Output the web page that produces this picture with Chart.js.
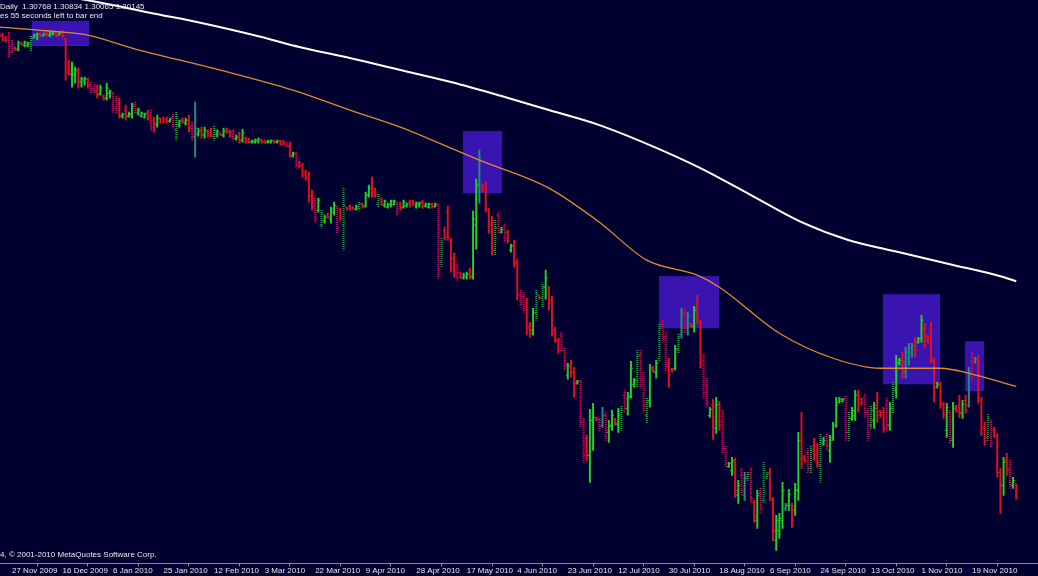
<!DOCTYPE html>
<html>
<head>
<meta charset="utf-8">
<script src="https://cdn.jsdelivr.net/npm/chart.js@4.4.0/dist/chart.umd.min.js"></script>
<style>
  html, body { margin: 0; padding: 0; background: #000030; }
  #wrap { position: relative; width: 1038px; height: 576px; }
</style>
</head>
<body>
<div id="wrap"><canvas id="chart"></canvas></div>
<script>
// daily bars, bar 0 = 27 Nov 2009 (first axis label), one label every 16 bars
const firstBar = -4

const opens = [
  1.5335, 1.5325, 1.531, 1.53, 1.5265, 1.526, 1.5255, 1.5285, 1.5275, 1.5275,
  1.528, 1.531, 1.5315, 1.533, 1.532, 1.5335, 1.5325, 1.533, 1.5335, 1.5325,
  1.5335, 1.5305, 1.515, 1.513, 1.5125, 1.5145, 1.509, 1.5095, 1.5105, 1.5075,
  1.506, 1.505, 1.503, 1.502, 1.501, 1.5035, 1.5035, 1.50, 1.498, 1.492,
  1.495, 1.492, 1.493, 1.498, 1.4935, 1.492, 1.4915, 1.4935, 1.4925, 1.49,
  1.488, 1.4905, 1.491, 1.4905, 1.4895, 1.4915, 1.485, 1.4875, 1.4905, 1.4885,
  1.49, 1.487, 1.4815, 1.483, 1.485, 1.4825, 1.4845, 1.484, 1.482, 1.483,
  1.4835, 1.4825, 1.4855, 1.4845, 1.484, 1.4805, 1.483, 1.48, 1.481, 1.4805,
  1.479, 1.479, 1.4795, 1.48, 1.4795, 1.479, 1.479, 1.4795, 1.479, 1.4795,
  1.479, 1.4785, 1.477, 1.472, 1.473, 1.4685, 1.4675, 1.464, 1.4615, 1.452,
  1.45, 1.445, 1.4375, 1.4395, 1.443, 1.4405, 1.444, 1.4465, 1.445, 1.4375,
  1.4465, 1.447, 1.4465, 1.4455, 1.446, 1.448, 1.447, 1.4525, 1.456, 1.455,
  1.448, 1.4505, 1.4475, 1.4465, 1.4475, 1.448, 1.4485, 1.448, 1.4465, 1.447,
  1.449, 1.4495, 1.447, 1.4475, 1.449, 1.447, 1.4465, 1.448, 1.447, 1.4475,
  1.419, 1.435, 1.444, 1.43, 1.421, 1.417, 1.4135, 1.411, 1.4115, 1.415,
  1.412, 1.4375, 1.4575, 1.4575, 1.457, 1.445, 1.4375, 1.425, 1.4425, 1.434,
  1.437, 1.434, 1.425, 1.4275, 1.4185, 1.403, 1.402, 1.3975, 1.387, 1.385,
  1.394, 1.4025, 1.401, 1.4065, 1.405, 1.40, 1.385, 1.38, 1.3825, 1.375,
  1.3625, 1.368, 1.364, 1.3585, 1.359, 1.339, 1.331, 1.3225, 1.34, 1.3415,
  1.3405, 1.3375, 1.3425, 1.334, 1.337, 1.3405, 1.338, 1.341, 1.3525, 1.346,
  1.352, 1.358, 1.36, 1.3725, 1.361, 1.3425, 1.35, 1.3665, 1.364, 1.371,
  1.388, 1.382, 1.3685, 1.3655, 1.366, 1.3755, 1.383, 1.394, 1.386, 1.3885,
  1.387, 1.396, 1.389, 1.37, 1.3575, 1.3425, 1.3475, 1.336, 1.3475, 1.339,
  1.326, 1.317, 1.315, 1.319, 1.3025, 1.3125, 1.3025, 1.311, 1.314, 1.299,
  1.29, 1.3035, 1.30, 1.3115, 1.314, 1.30, 1.28, 1.285, 1.29, 1.296,
  1.2975, 1.2975, 1.295, 1.305, 1.33, 1.322, 1.324, 1.316, 1.3275, 1.325,
  1.3175, 1.3285, 1.332, 1.325, 1.3315, 1.3375, 1.349, 1.3495, 1.351, 1.334,
  1.341, 1.3425, 1.353, 1.3505, 1.351, 1.344, 1.3375, 1.34, 1.3475, 1.3445,
  1.344, 1.3475, 1.3375, 1.346, 1.355, 1.3685, 1.371, 1.364, 1.371, 1.374,
  1.38, 1.379, 1.381, 1.386, 1.382, 1.385, 1.37, 1.3565, 1.3575, 1.348,
  1.335, 1.344, 1.33, 1.347, 1.3475, 1.3435, 1.35, 1.3475, 1.37, 1.369,
  1.37, 1.35, 1.337, 1.3315, 1.339, 1.335, 1.332, 1.314, 1.3075, 1.32,
  1.316, 1.3075, 1.30768,
]

const highs = [
  1.5335, 1.5335, 1.532, 1.534, 1.5305, 1.5265, 1.5295, 1.529, 1.5295, 1.529,
  1.532, 1.533, 1.5335, 1.5335, 1.5335, 1.534, 1.534, 1.534, 1.534, 1.534,
  1.535, 1.531, 1.52, 1.519, 1.5165, 1.516, 1.5115, 1.5115, 1.511, 1.509,
  1.5085, 1.5075, 1.5075, 1.5025, 1.5085, 1.505, 1.504, 1.5025, 1.501, 1.4935,
  1.4975, 1.494, 1.4985, 1.499, 1.496, 1.494, 1.4935, 1.495, 1.495, 1.4915,
  1.4925, 1.491, 1.4915, 1.4915, 1.491, 1.4935, 1.494, 1.49, 1.491, 1.491,
  1.4925, 1.489, 1.499, 1.486, 1.4865, 1.4865, 1.485, 1.486, 1.4875, 1.485,
  1.4835, 1.486, 1.486, 1.485, 1.485, 1.4825, 1.484, 1.4855, 1.4815, 1.481,
  1.48, 1.4805, 1.481, 1.4805, 1.48, 1.48, 1.48, 1.48, 1.48, 1.48,
  1.48, 1.479, 1.479, 1.474, 1.474, 1.4695, 1.4685, 1.465, 1.464, 1.455,
  1.4515, 1.451, 1.445, 1.4425, 1.4435, 1.4465, 1.449, 1.4475, 1.446, 1.456,
  1.4465, 1.4475, 1.4465, 1.4475, 1.449, 1.4485, 1.454, 1.4575, 1.4615, 1.456,
  1.4535, 1.451, 1.45, 1.4485, 1.45, 1.45, 1.449, 1.449, 1.45, 1.4485,
  1.45, 1.45, 1.449, 1.449, 1.45, 1.4485, 1.4485, 1.4485, 1.4485, 1.4485,
  1.431, 1.4365, 1.447, 1.431, 1.4235, 1.4185, 1.414, 1.4135, 1.414, 1.416,
  1.4445, 1.4605, 1.475, 1.458, 1.459, 1.446, 1.442, 1.4405, 1.444, 1.4365,
  1.4385, 1.435, 1.428, 1.43, 1.4205, 1.405, 1.404, 1.401, 1.389, 1.396,
  1.405, 1.4025, 1.4085, 1.415, 1.407, 1.402, 1.3865, 1.381, 1.3845, 1.376,
  1.3685, 1.37, 1.3665, 1.36, 1.36, 1.341, 1.3325, 1.3455, 1.3485, 1.3415,
  1.3415, 1.3465, 1.344, 1.34, 1.345, 1.341, 1.346, 1.3475, 1.355, 1.354,
  1.3695, 1.361, 1.375, 1.375, 1.364, 1.3515, 1.368, 1.367, 1.37, 1.3885,
  1.39, 1.384, 1.371, 1.366, 1.3775, 1.3835, 1.396, 1.396, 1.394, 1.3885,
  1.397, 1.4025, 1.39, 1.3735, 1.361, 1.3465, 1.3505, 1.3515, 1.3495, 1.345,
  1.3275, 1.319, 1.3215, 1.321, 1.31, 1.3165, 1.314, 1.314, 1.3165, 1.30,
  1.305, 1.306, 1.319, 1.314, 1.316, 1.3015, 1.2925, 1.2935, 1.309, 1.2985,
  1.3055, 1.2985, 1.3085, 1.334, 1.344, 1.3225, 1.3265, 1.3275, 1.331, 1.3285,
  1.3335, 1.3315, 1.3335, 1.3325, 1.339, 1.3515, 1.3515, 1.351, 1.3525, 1.344,
  1.3465, 1.355, 1.355, 1.351, 1.3535, 1.3465, 1.3475, 1.349, 1.354, 1.345,
  1.3465, 1.351, 1.349, 1.359, 1.3725, 1.371, 1.374, 1.3765, 1.3785, 1.3785,
  1.3815, 1.3815, 1.3925, 1.3885, 1.3825, 1.389, 1.371, 1.359, 1.359, 1.349,
  1.3485, 1.345, 1.349, 1.3475, 1.3525, 1.35, 1.3525, 1.3665, 1.374, 1.3715,
  1.3725, 1.3515, 1.339, 1.3435, 1.34, 1.3365, 1.3335, 1.316, 1.3215, 1.3235,
  1.32, 1.3115, 1.30834,
]

const lows = [
  1.5315, 1.5295, 1.529, 1.521, 1.5235, 1.525, 1.5245, 1.5275, 1.5265, 1.5265,
  1.5245, 1.531, 1.53, 1.5315, 1.532, 1.532, 1.5315, 1.5325, 1.5315, 1.5325,
  1.5315, 1.51, 1.5125, 1.5065, 1.5085, 1.506, 1.5065, 1.5075, 1.506, 1.5035,
  1.5035, 1.501, 1.5025, 1.50, 1.50, 1.501, 1.494, 1.4935, 1.491, 1.491,
  1.49, 1.4915, 1.491, 1.4935, 1.4925, 1.4915, 1.491, 1.49, 1.485, 1.484,
  1.4865, 1.4885, 1.4885, 1.4885, 1.489, 1.486, 1.48, 1.4865, 1.4885, 1.4875,
  1.484, 1.48, 1.4715, 1.482, 1.481, 1.481, 1.4815, 1.4815, 1.48, 1.4815,
  1.4825, 1.4815, 1.4835, 1.4815, 1.48, 1.48, 1.4785, 1.479, 1.4785, 1.4785,
  1.4785, 1.4785, 1.4785, 1.4785, 1.4785, 1.4785, 1.4785, 1.4785, 1.4785, 1.4775,
  1.4775, 1.4765, 1.4715, 1.4715, 1.466, 1.466, 1.4615, 1.46, 1.449, 1.445,
  1.439, 1.444, 1.436, 1.4385, 1.441, 1.4385, 1.4425, 1.4335, 1.44, 1.425,
  1.445, 1.445, 1.4455, 1.445, 1.445, 1.446, 1.4465, 1.4515, 1.4515, 1.4515,
  1.4465, 1.4475, 1.4465, 1.446, 1.4465, 1.4475, 1.4425, 1.445, 1.446, 1.4465,
  1.4465, 1.4475, 1.446, 1.4465, 1.446, 1.4465, 1.446, 1.446, 1.4465, 1.411,
  1.4165, 1.43, 1.43, 1.414, 1.4115, 1.41, 1.411, 1.4105, 1.4105, 1.4105,
  1.4105, 1.4255, 1.4485, 1.454, 1.444, 1.4335, 1.4225, 1.4225, 1.4335, 1.4335,
  1.429, 1.4285, 1.424, 1.4165, 1.40, 1.3975, 1.394, 1.3825, 1.3815, 1.3825,
  1.39, 1.4005, 1.3965, 1.4005, 1.395, 1.382, 1.379, 1.3735, 1.3745, 1.365,
  1.3605, 1.3615, 1.3515, 1.358, 1.3365, 1.319, 1.32, 1.309, 1.325, 1.34,
  1.335, 1.3365, 1.33, 1.329, 1.335, 1.3375, 1.334, 1.335, 1.344, 1.3425,
  1.351, 1.3565, 1.3565, 1.356, 1.344, 1.3385, 1.3465, 1.364, 1.361, 1.369,
  1.379, 1.364, 1.3565, 1.364, 1.365, 1.3735, 1.381, 1.3835, 1.3825, 1.3865,
  1.384, 1.3885, 1.366, 1.351, 1.3465, 1.3415, 1.3305, 1.3335, 1.335, 1.3235,
  1.3165, 1.3165, 1.3125, 1.3015, 1.2985, 1.3025, 1.30, 1.31, 1.299, 1.289,
  1.286, 1.294, 1.2985, 1.311, 1.30, 1.28, 1.275, 1.281, 1.286, 1.295,
  1.295, 1.2865, 1.2925, 1.30, 1.316, 1.319, 1.3135, 1.3135, 1.32, 1.3165,
  1.309, 1.3275, 1.326, 1.319, 1.33, 1.3365, 1.3485, 1.349, 1.33, 1.33,
  1.34, 1.34, 1.344, 1.3475, 1.3415, 1.33, 1.336, 1.336, 1.339, 1.3415,
  1.334, 1.335, 1.335, 1.3435, 1.351, 1.3675, 1.361, 1.361, 1.3675, 1.3715,
  1.3715, 1.3785, 1.379, 1.376, 1.3785, 1.3685, 1.349, 1.356, 1.346, 1.341,
  1.3315, 1.3285, 1.3265, 1.344, 1.3415, 1.341, 1.3435, 1.3465, 1.36, 1.3685,
  1.3485, 1.3325, 1.3275, 1.33, 1.3265, 1.3315, 1.3115, 1.2935, 1.3025, 1.3125,
  1.306, 1.306, 1.30065,
]

const closes = [
  1.532, 1.53, 1.5295, 1.524, 1.5245, 1.525, 1.5285, 1.5275, 1.529, 1.5285,
  1.531, 1.5325, 1.533, 1.532, 1.533, 1.5325, 1.5335, 1.5335, 1.532, 1.5335,
  1.532, 1.514, 1.513, 1.517, 1.515, 1.51, 1.5105, 1.5105, 1.5075, 1.505,
  1.5045, 1.5025, 1.506, 1.5005, 1.506, 1.5045, 1.496, 1.495, 1.492, 1.493,
  1.492, 1.493, 1.497, 1.495, 1.495, 1.4935, 1.493, 1.491, 1.4865, 1.4875,
  1.491, 1.489, 1.4895, 1.489, 1.4905, 1.4875, 1.491, 1.4895, 1.4895, 1.49,
  1.486, 1.482, 1.486, 1.4845, 1.4825, 1.485, 1.4825, 1.483, 1.485, 1.4845,
  1.4825, 1.4845, 1.484, 1.482, 1.481, 1.4815, 1.4795, 1.4835, 1.479, 1.479,
  1.4795, 1.48, 1.4805, 1.479, 1.4785, 1.4795, 1.48, 1.479, 1.4795, 1.478,
  1.478, 1.477, 1.4725, 1.4735, 1.4675, 1.467, 1.4625, 1.461, 1.452, 1.4465,
  1.441, 1.45, 1.4435, 1.4415, 1.4415, 1.4455, 1.4475, 1.436, 1.441, 1.4475,
  1.4455, 1.4455, 1.4455, 1.447, 1.448, 1.4465, 1.4525, 1.456, 1.4525, 1.4525,
  1.452, 1.448, 1.4495, 1.448, 1.4495, 1.4495, 1.444, 1.446, 1.449, 1.448,
  1.4475, 1.448, 1.4485, 1.4485, 1.447, 1.448, 1.448, 1.4465, 1.448, 1.415,
  1.429, 1.4315, 1.4315, 1.416, 1.413, 1.4115, 1.4115, 1.4125, 1.413, 1.4115,
  1.4405, 1.4575, 1.471, 1.455, 1.446, 1.435, 1.425, 1.436, 1.435, 1.4355,
  1.431, 1.43, 1.427, 1.419, 1.4025, 1.399, 1.396, 1.386, 1.3835, 1.3935,
  1.4035, 1.401, 1.4065, 1.411, 1.3985, 1.385, 1.38, 1.375, 1.3765, 1.3675,
  1.367, 1.364, 1.354, 1.3595, 1.339, 1.3225, 1.3225, 1.34, 1.3415, 1.3405,
  1.337, 1.3425, 1.335, 1.3375, 1.3425, 1.3385, 1.3425, 1.345, 1.346, 1.3515,
  1.366, 1.36, 1.372, 1.36, 1.3475, 1.349, 1.3655, 1.3645, 1.3685, 1.386,
  1.381, 1.367, 1.3625, 1.3645, 1.3755, 1.3815, 1.3935, 1.387, 1.392, 1.387,
  1.395, 1.391, 1.369, 1.354, 1.349, 1.3455, 1.34, 1.348, 1.3375, 1.326,
  1.3185, 1.3185, 1.32, 1.305, 1.3075, 1.305, 1.311, 1.313, 1.301, 1.2915,
  1.3025, 1.296, 1.315, 1.313, 1.301, 1.285, 1.29, 1.291, 1.305, 1.2975,
  1.303, 1.29, 1.305, 1.33, 1.321, 1.32, 1.316, 1.325, 1.3225, 1.319,
  1.33, 1.33, 1.3275, 1.33, 1.3375, 1.3475, 1.3505, 1.3505, 1.334, 1.341,
  1.345, 1.3525, 1.3475, 1.3485, 1.344, 1.334, 1.345, 1.346, 1.3425, 1.3425,
  1.336, 1.3375, 1.346, 1.356, 1.369, 1.37, 1.364, 1.374, 1.376, 1.377,
  1.375, 1.3805, 1.39, 1.38, 1.3795, 1.371, 1.3525, 1.358, 1.348, 1.343,
  1.3465, 1.331, 1.346, 1.345, 1.344, 1.348, 1.345, 1.364, 1.362, 1.3705,
  1.351, 1.336, 1.33, 1.341, 1.329, 1.3325, 1.314, 1.3075, 1.319, 1.315,
  1.309, 1.31, 1.30145,
]

// 0 = plain bar, 1 = dotted bar, 2 = teal bar
const barStyles = [
  '0001100000', '1000000000', '0000000001', '1000001100', '0001000010',
  '0000011000', '0120000010', '0000100000', '0000000000', '0100100000',
  '1010000101', '0000100000', '1000001000', '0000000001', '1000010000',
  '0020000110', '1000011000', '1010000011', '0000110000', '1210000110',
  '0011110001', '1100012120', '0001100001', '1000012110', '0111000002',
  '0000001100', '1010000011', '0000111000', '0101000222', '0000000000',
  '0100000212', '0001100000', '100',
].join('')

const tickBars = [0, 16, 32, 48, 64, 80, 96, 112, 128, 144, 160, 176, 192, 208, 224, 240, 256, 272, 288, 304]
const dateLabels = [
  '27 Nov 2009', '16 Dec 2009', '6 Jan 2010', '25 Jan 2010', '12 Feb 2010',
  '3 Mar 2010', '22 Mar 2010', '9 Apr 2010', '28 Apr 2010', '17 May 2010',
  '4 Jun 2010', '23 Jun 2010', '12 Jul 2010', '30 Jul 2010', '18 Aug 2010',
  '6 Sep 2010', '24 Sep 2010', '13 Oct 2010', '1 Nov 2010', '19 Nov 2010',
]

// moving averages, read at a few bars
const slowMaBars = [-4, 27, 44, 60, 79, 91, 107, 123, 139, 155, 170, 186, 202, 218, 234, 250, 265, 281, 297, 313, 318]
const slowMaValues = [1.557, 1.549, 1.5435, 1.5385, 1.5315, 1.5265, 1.521, 1.515, 1.509, 1.502, 1.495, 1.4875, 1.4775, 1.466, 1.4525, 1.439, 1.43, 1.424, 1.418, 1.412, 1.4095]
const fastMaBars = [-4, 12, 24, 38, 66, 89, 107, 123, 139, 148, 170, 186, 201, 217, 224, 243, 260, 275, 294, 303, 318]
const fastMaValues = [1.5365, 1.5345, 1.5325, 1.526, 1.515, 1.505, 1.495, 1.4865, 1.476, 1.47, 1.456, 1.439, 1.42, 1.4125, 1.4065, 1.3835, 1.371, 1.366, 1.366, 1.3635, 1.357]

// rectangles drawn on the chart
const boxStart = [6.3, 142.8, 204.9, 275.8, 301.8]
const boxEnd = [24.4, 155.2, 223.9, 293.9, 307.8]
const boxTop = [1.5395, 1.4845, 1.412, 1.403, 1.3795]
const boxBottom = [1.527, 1.4535, 1.386, 1.358, 1.3545]

const headerLines = ['Daily  1.30768 1.30834 1.30065 1.30145', 'es 55 seconds left to bar end']
const footerLine = '4, \u00a9 2001-2010 MetaQuotes Software Corp.'

const textColor = '#e8e8e8'
const axisColor = '#8a8a8a'

let canvas = document.getElementById('chart')
let ctx = canvas.getContext('2d')

function dottedFill(color) {
  let c = document.createElement('canvas')
  c.width = 1
  c.height = 2
  let g = c.getContext('2d')
  g.fillStyle = color
  g.fillRect(0, 0, 1, 1)
  return ctx.createPattern(c, 'repeat')
}

const upColor = '#1fd21f'
const downColor = '#e3101c'
const upDottedColor = '#14a03a'
const downDottedColor = '#c0105a'
const upDotted = dottedFill(upDottedColor)
const downDotted = dottedFill(downDottedColor)
const tealColor = '#1f8f7c'

function barColor(i) {
  let up = closes[i] >= opens[i]
  let s = barStyles[i]
  if (s === '2') return tealColor
  if (s === '1') return up ? upDotted : downDotted
  return up ? upColor : downColor
}
function tickColor(i) {
  let up = closes[i] >= opens[i]
  let s = barStyles[i]
  if (s === '2') return tealColor
  if (s === '1') return up ? upDottedColor : downDottedColor
  return up ? upColor : downColor
}

const boxPlugin = {
  id: 'boxes',
  beforeDatasetsDraw(chart) {
    let {ctx, scales: {x, y}} = chart
    ctx.save()
    ctx.fillStyle = '#3a14b0'
    boxStart.forEach((s, i) => {
      let x0 = x.getPixelForValue(s)
      let x1 = x.getPixelForValue(boxEnd[i])
      let y0 = y.getPixelForValue(boxTop[i])
      let y1 = y.getPixelForValue(boxBottom[i])
      ctx.fillRect(x0, y0, x1 - x0, y1 - y0)
    })
    ctx.restore()
  },
}

const textPlugin = {
  id: 'texts',
  afterDraw(chart) {
    let ctx = chart.ctx
    ctx.save()
    ctx.font = '8px "Liberation Sans"'
    ctx.fillStyle = textColor
    ctx.textBaseline = 'middle'
    ctx.textAlign = 'left'
    ctx.fillText(headerLines[0], 0, 7)
    ctx.fillText(headerLines[1], 0, 16)
    ctx.fillText(footerLine, 0, 555)
    ctx.restore()
  },
}

const idx = opens.map((o, i) => i)

new Chart(ctx, {
  type: 'bar',
  data: {
    datasets: [
      {
        type: 'line',
        data: slowMaBars.map((b, i) => ({x: b, y: slowMaValues[i]})),
        borderColor: '#ffffff',
        borderWidth: 2,
        pointRadius: 0,
        cubicInterpolationMode: 'monotone',
        order: 0,
      },
      {
        type: 'line',
        data: fastMaBars.map((b, i) => ({x: b, y: fastMaValues[i]})),
        borderColor: '#e08a30',
        borderWidth: 1.3,
        pointRadius: 0,
        cubicInterpolationMode: 'monotone',
        order: 0,
      },
      {
        type: 'line',
        showLine: false,
        data: idx.map(i => ({x: firstBar + i - 0.32, y: opens[i]})),
        pointStyle: 'line',
        pointRadius: 1,
        pointBorderWidth: 1,
        pointBorderColor: idx.map(tickColor),
        order: 1,
      },
      {
        type: 'line',
        showLine: false,
        data: idx.map(i => ({x: firstBar + i + 0.32, y: closes[i]})),
        pointStyle: 'line',
        pointRadius: 1,
        pointBorderWidth: 1,
        pointBorderColor: idx.map(tickColor),
        order: 1,
      },
      {
        type: 'bar',
        data: idx.map(i => ({x: firstBar + i, y: [lows[i], highs[i]]})),
        backgroundColor: idx.map(barColor),
        borderWidth: 0,
        borderSkipped: false,
        barThickness: 1.3,
        order: 2,
      },
    ],
  },
  options: {
    responsive: true,
    maintainAspectRatio: false,
    animation: false,
    events: [],
    layout: {padding: 0, autoPadding: false},
    plugins: {
      legend: {display: false},
      tooltip: {enabled: false},
    },
    scales: {
      x: {
        type: 'linear',
        min: -3.8,
        max: 324.9,
        offset: false,
        bounds: 'data',
        afterBuildTicks: (scale) => {
          scale.ticks = tickBars.map(v => ({value: v}))
        },
        ticks: {
          autoSkip: false,
          maxRotation: 0,
          align: 'start',
          padding: 0,
          color: textColor,
          font: {family: 'Liberation Sans', size: 8},
          callback: (val, index) => dateLabels[index],
        },
        grid: {
          drawOnChartArea: false,
          drawTicks: true,
          tickLength: 3,
          color: axisColor,
        },
        border: {display: true, color: axisColor, width: 1},
      },
      y: {
        display: false,
        min: 1.2685,
        max: 1.55,
      },
    },
  },
  plugins: [boxPlugin, textPlugin],
})
</script>
</body>
</html>
